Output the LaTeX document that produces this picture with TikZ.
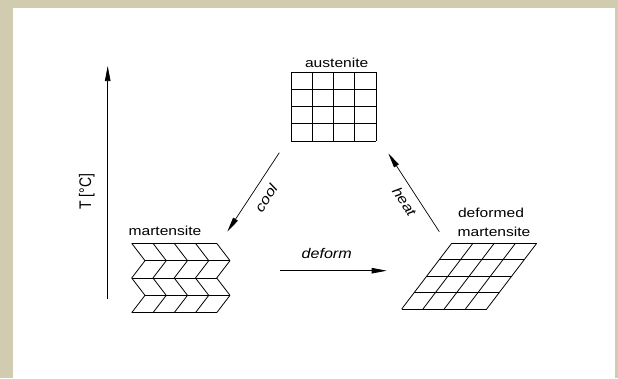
\documentclass[tikz,border=0pt]{standalone}
\usepackage{fontspec}
\setmainfont{Liberation Sans}
\usetikzlibrary{arrows.meta}
\definecolor{framebeige}{RGB}{209,204,176}
\begin{document}
\begin{tikzpicture}[x=1pt,y=-1pt,
  gridline/.style={line width=0.8pt},
  flow/.style={line width=0.7pt,-{Triangle[length=15pt,width=5.5pt]}},
  lbl/.style={font=\fontsize{13}{15}\selectfont,inner sep=0pt},
  ilbl/.style={font=\fontsize{14}{16}\selectfont\itshape,inner sep=0pt}]
\useasboundingbox (0,0) rectangle (618,378);
% frame and canvas
\fill[framebeige] (0,0) rectangle (618,378);
\fill[white] (13,8) rectangle (615,378);

% austenite: square lattice
\foreach \i in {0,...,4} {
  \draw[gridline] ({291+21.25*\i},72) -- ({291+21.25*\i},141);
  \draw[gridline] (291,{72+17.25*\i}) -- (376,{72+17.25*\i});
}

% martensite: twinned (chevron) lattice
\foreach \j in {0,...,4} {
  \pgfmathsetmacro\off{mod(\j,2)*13.3}
  \draw[gridline] ({131.7+\off},{243.3+17.35*\j}) -- ({216.7+\off},{243.3+17.35*\j});
}
\foreach \j in {0,...,3} {
  \pgfmathsetmacro\offa{mod(\j,2)*13.3}
  \pgfmathsetmacro\offb{mod(\j+1,2)*13.3}
  \foreach \i in {0,...,4} {
    \draw[gridline] ({131.7+21.25*\i+\offa},{243.3+17.35*\j})
      -- ({131.7+21.25*\i+\offb},{243.3+17.35*(\j+1)});
  }
}

% deformed martensite: sheared lattice
\foreach \j in {0,...,4} {
  \draw[gridline] ({451.7-12.5*\j},{243.3+16.43*\j}) -- ({536.7-12.5*\j},{243.3+16.43*\j});
}
\foreach \i in {0,...,4} {
  \draw[gridline] ({451.7+21.25*\i},243.3) -- ({401.7+21.25*\i},309);
}

% labels
\node[lbl] (lAus) at (336.7,62.5) {\scalebox{1.2}[1]{austenite}};
\node[lbl] (lMart) at (165,231) {\scalebox{1.2}[1]{martensite}};
\node[lbl] (lDef1) at (491,213) {\scalebox{1.2}[1]{deformed}};
\node[lbl] (lDef2) at (494,231.5) {\scalebox{1.2}[1]{martensite}};

% temperature axis
\coordinate (tLow) at (107.7,299);
\coordinate (tHigh) at (107.7,66);
\draw[flow] (tLow) -- (tHigh);
\node[lbl,font=\fontsize{14}{16}\selectfont,rotate=90] (lT) at (86.7,191.7) {\scalebox{1}[1.2]{T [°C]}};

% transformation paths
\coordinate (coolA) at (279.3,152.7);
\coordinate (coolB) at (227.3,231.7);
\draw[flow] (coolA) -- (coolB);
\node[ilbl,rotate=56.6] (lCool) at (266,198) {\scalebox{1.15}[1]{cool}};

\coordinate (defA) at (280,270.7);
\coordinate (defB) at (386.7,270.7);
\draw[flow] (defA) -- (defB);
\node[ilbl] (lDeform) at (326.7,253.3) {\scalebox{1.15}[1]{deform}};

\coordinate (heatA) at (439.3,231.7);
\coordinate (heatB) at (388.3,153.3);
\draw[flow] (heatA) -- (heatB);
\node[ilbl,rotate=-56.6] (lHeat) at (404.5,201.7) {\scalebox{1.15}[1]{heat}};
\end{tikzpicture}
\end{document}
